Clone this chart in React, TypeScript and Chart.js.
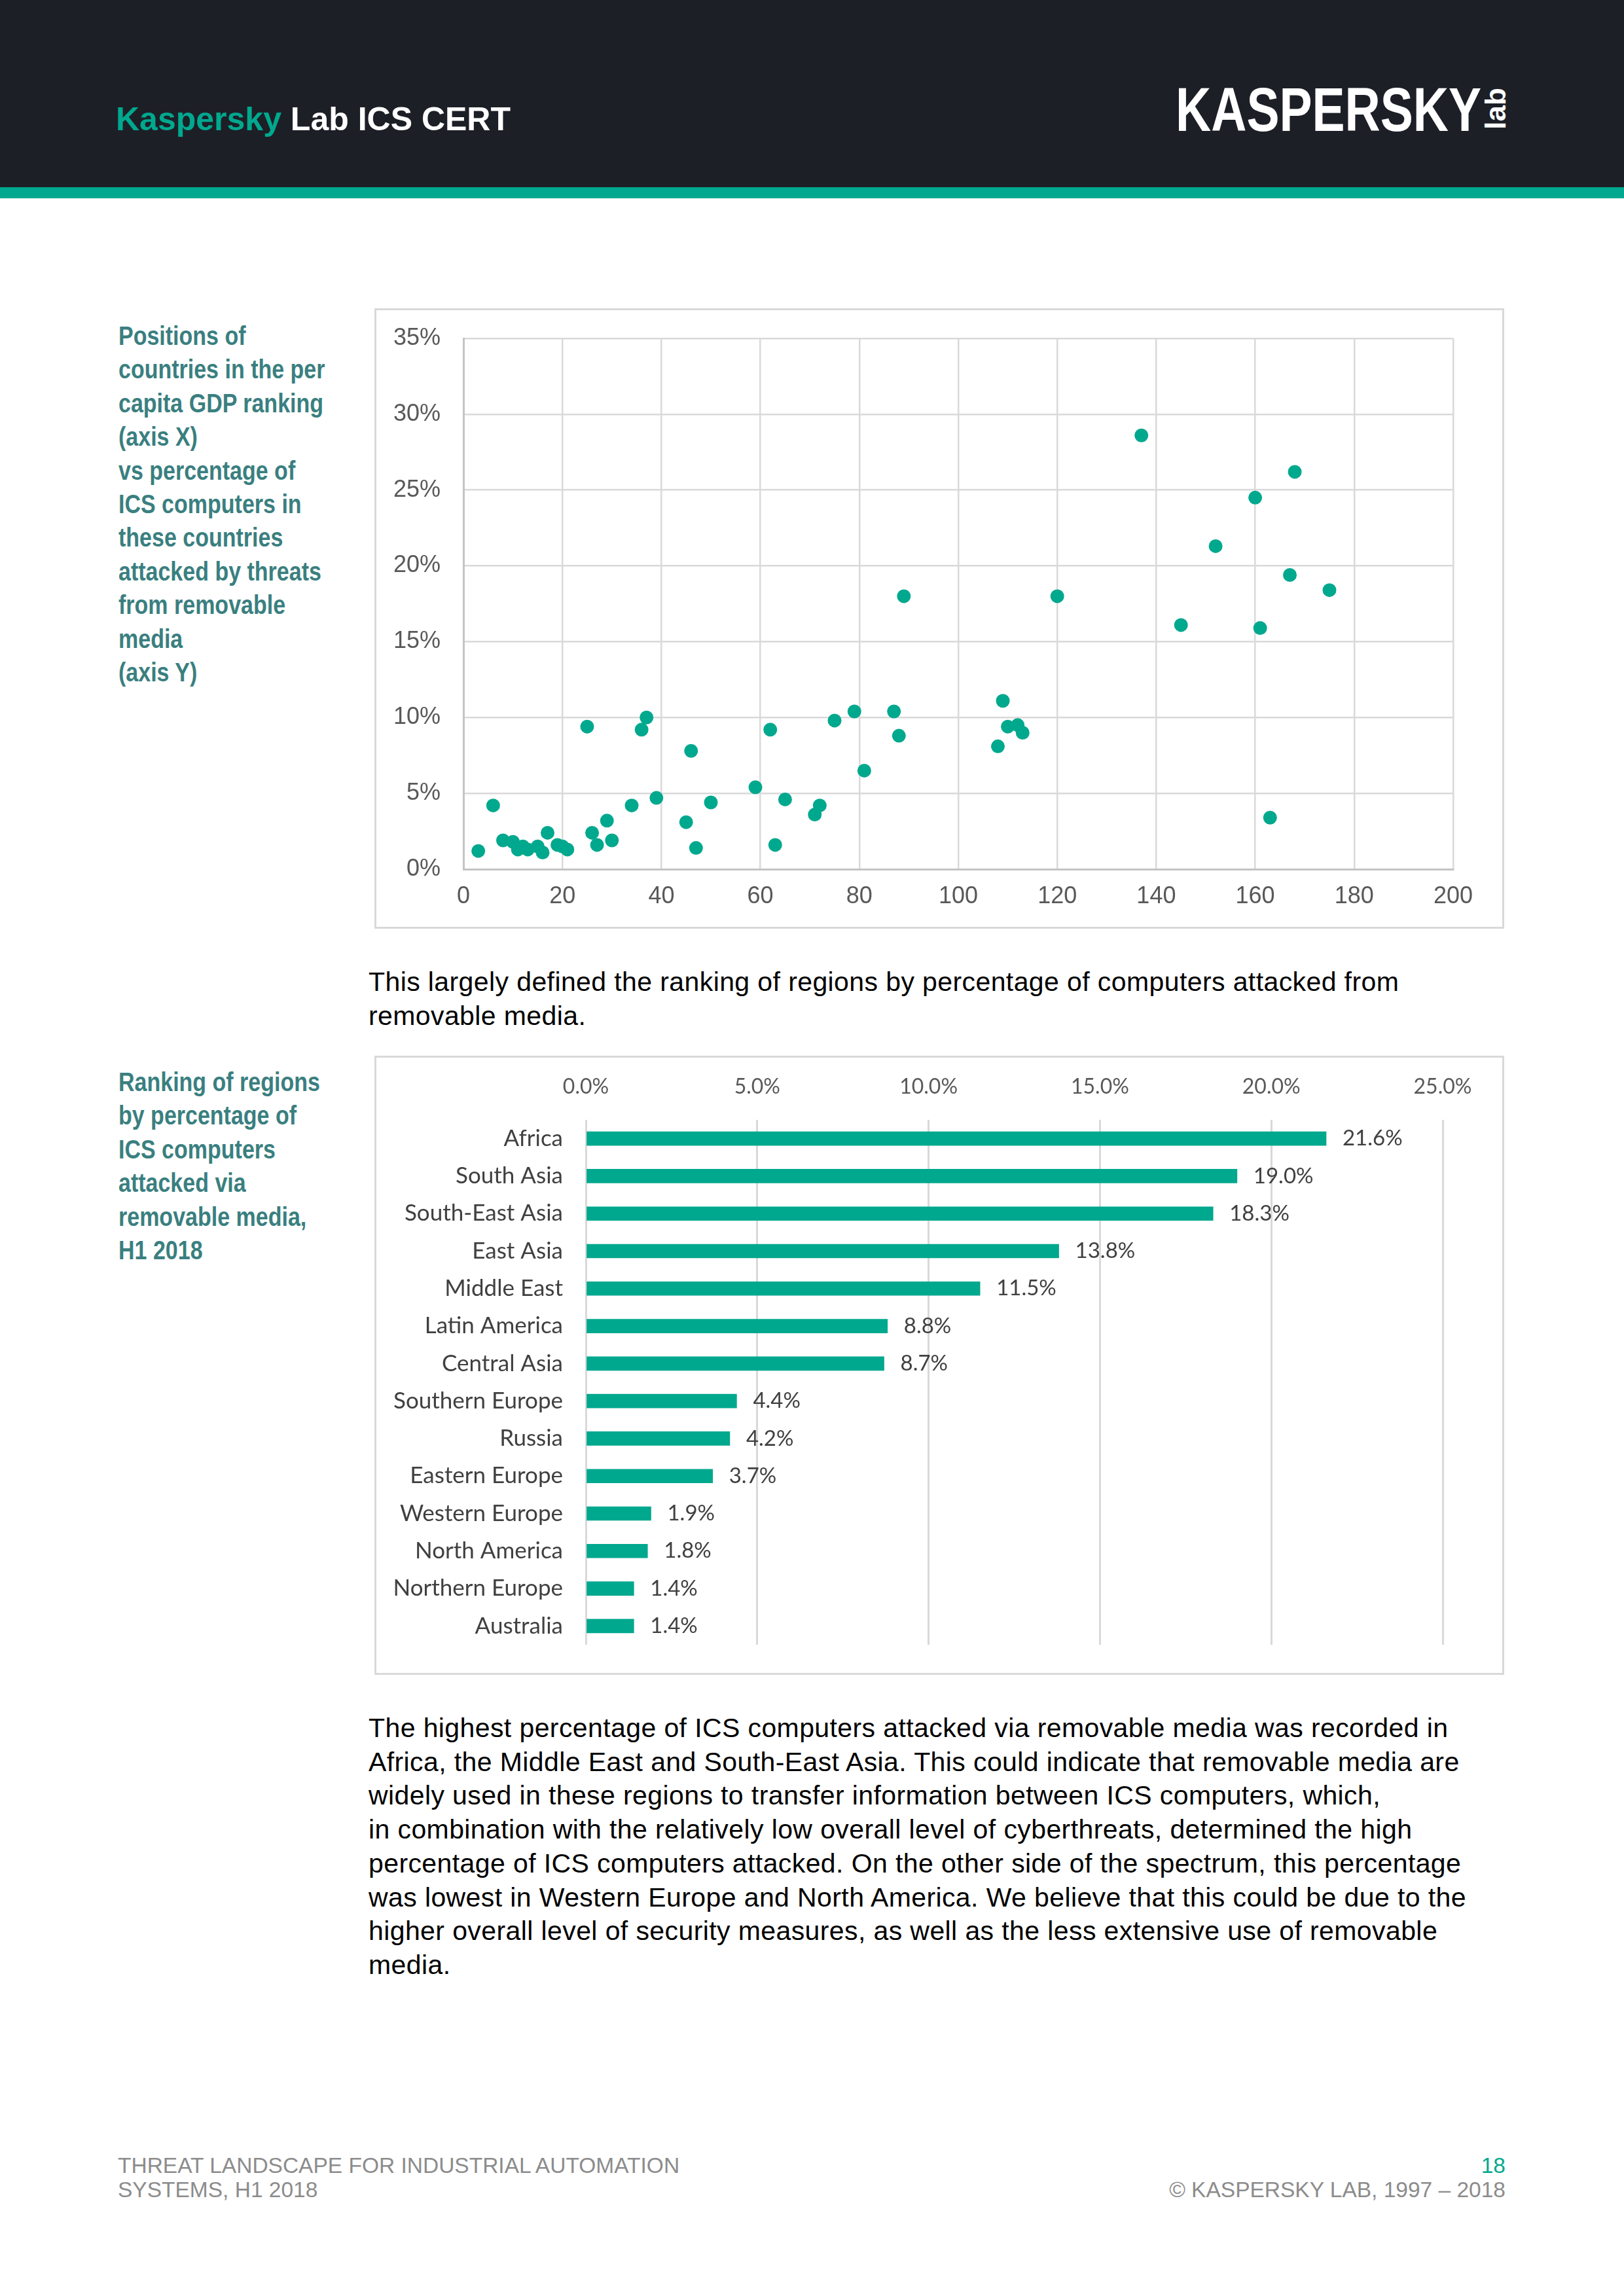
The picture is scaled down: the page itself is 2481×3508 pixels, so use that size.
import React, { useEffect, useRef } from "react";
import { Chart, registerables } from "chart.js";

Chart.register(...registerables);

// ---- Scatter data: per capita GDP rank (x) vs % ICS computers attacked via removable media (y)
const gdpRank = [
  3, 6, 8, 10, 11, 12, 13, 15, 16, 17, 19, 20, 21, 25, 26, 27, 29, 30, 34, 36, 37, 39,
  45, 46, 47, 50, 59, 62, 63, 65, 71, 72, 75, 79, 81, 87, 88, 89,
  137, 168, 160, 152, 167, 175, 120, 145, 161, 109, 110, 112, 113, 108, 163,
];
const removablePct = [
  1.2, 4.2, 1.9, 1.8, 1.3, 1.5, 1.3, 1.5, 1.1, 2.4, 1.6, 1.5, 1.3, 9.4, 2.4, 1.6, 3.2, 1.9, 4.2, 9.2, 10.0, 4.7,
  3.1, 7.8, 1.4, 4.4, 5.4, 9.2, 1.6, 4.6, 3.6, 4.2, 9.8, 10.4, 6.5, 10.4, 8.8, 18.0,
  28.6, 26.2, 24.5, 21.3, 19.4, 18.4, 18.0, 16.1, 15.9, 11.1, 9.4, 9.5, 9.0, 8.1, 3.4,
];
const scatterXTicks = [0, 20, 40, 60, 80, 100, 120, 140, 160, 180, 200];
const scatterYTicks = [0, 5, 10, 15, 20, 25, 30, 35];

// ---- Bar data: ranking of regions
const regions = [
  "Africa",
  "South Asia",
  "South-East Asia",
  "East Asia",
  "Middle East",
  "Latin America",
  "Central Asia",
  "Southern Europe",
  "Russia",
  "Eastern Europe",
  "Western Europe",
  "North America",
  "Northern Europe",
  "Australia",
];
const regionPct = [21.6, 19.0, 18.3, 13.8, 11.5, 8.8, 8.7, 4.4, 4.2, 3.7, 1.9, 1.8, 1.4, 1.4];
const barTicks = [0, 5, 10, 15, 20, 25];

const TEAL = "#00A88E";
const CAPTION = "#3A7F80";
const GRID = "#D9D9D9";

function ScatterChart() {
  const ref = useRef<HTMLCanvasElement>(null);
  useEffect(() => {
    const font = { family: "'Liberation Sans', Arial, sans-serif", size: 36 };
    const chart = new Chart(ref.current as HTMLCanvasElement, {
      type: "scatter",
      data: {
        datasets: [
          {
            data: gdpRank.map((x, i) => ({ x, y: removablePct[i] })),
            backgroundColor: TEAL,
            borderWidth: 0,
            pointRadius: 10.5,
            pointHoverRadius: 10.5,
          },
        ],
      },
      options: {
        responsive: false,
        animation: false,
        devicePixelRatio: 1,
        layout: { padding: { top: 43, right: 75, left: 0, bottom: 0 } },
        plugins: { legend: { display: false }, tooltip: { enabled: false } },
        scales: {
          x: {
            type: "linear",
            min: scatterXTicks[0],
            max: scatterXTicks[scatterXTicks.length - 1],
            afterBuildTicks: (s: any) => {
              s.ticks = scatterXTicks.map((v) => ({ value: v }));
            },
            ticks: { padding: 20, color: "#595959", font },
            grid: { color: GRID, lineWidth: 2.5, drawTicks: false },
            border: { color: "#C4C4C4", width: 3 },
            afterFit: (s: any) => {
              s.height = 88;
              s.paddingLeft = 0;
              s.paddingRight = 0;
            },
          },
          y: {
            type: "linear",
            min: scatterYTicks[0],
            max: scatterYTicks[scatterYTicks.length - 1],
            afterBuildTicks: (s: any) => {
              s.ticks = scatterYTicks.map((v) => ({ value: v }));
            },
            ticks: { padding: 35, color: "#595959", font, callback: (v: any) => v + "%" },
            grid: { color: GRID, lineWidth: 2.5, drawTicks: false },
            border: { color: "#C4C4C4", width: 3 },
            afterFit: (s: any) => {
              s.width = 133;
              s.paddingTop = 0;
              s.paddingBottom = 0;
            },
          },
        },
      },
    } as any);
    return () => chart.destroy();
  }, []);
  return <canvas ref={ref} width={1720} height={942} style={{ display: "block", width: 1720, height: 942 }} />;
}

const barLabelPlugin = {
  id: "barLabels",
  afterDatasetsDraw(chart: any) {
    const ctx = chart.ctx;
    const meta = chart.getDatasetMeta(0);
    ctx.save();
    ctx.font = "33px Lato, 'Open Sans', sans-serif";
    ctx.fillStyle = "#404040";
    ctx.textBaseline = "middle";
    ctx.textAlign = "left";
    meta.data.forEach((el: any, i: number) => {
      ctx.fillText(regionPct[i].toFixed(1) + "%", el.x + 25, el.y);
    });
    ctx.restore();
  },
};

function BarChart() {
  const ref = useRef<HTMLCanvasElement>(null);
  useEffect(() => {
    const chart = new Chart(ref.current as HTMLCanvasElement, {
      type: "bar",
      data: {
        labels: regions,
        datasets: [
          {
            data: regionPct,
            backgroundColor: TEAL,
            borderWidth: 0,
            barThickness: 21,
          },
        ],
      },
      plugins: [barLabelPlugin],
      options: {
        indexAxis: "y",
        responsive: false,
        animation: false,
        devicePixelRatio: 1,
        layout: { padding: { top: 0, right: 91, left: 0, bottom: 43 } },
        plugins: { legend: { display: false }, tooltip: { enabled: false } },
        scales: {
          x: {
            type: "linear",
            position: "top",
            min: barTicks[0],
            max: barTicks[barTicks.length - 1],
            afterBuildTicks: (s: any) => {
              s.ticks = barTicks.map((v) => ({ value: v }));
            },
            ticks: {
              padding: 31,
              color: "#595959",
              font: { family: "Lato, 'Open Sans', sans-serif", size: 32 },
              callback: (v: any) => Number(v).toFixed(1) + "%",
            },
            grid: { color: GRID, lineWidth: 3, drawTicks: false },
            border: { display: false },
            afterFit: (s: any) => {
              s.height = 95;
              s.paddingLeft = 0;
              s.paddingRight = 0;
            },
          },
          y: {
            type: "category",
            ticks: {
              padding: 35,
              color: "#404040",
              font: { family: "Lato, 'Open Sans', sans-serif", size: 35 },
            },
            grid: { display: false, drawTicks: false },
            border: { display: false },
            afterFit: (s: any) => {
              s.width = 320;
              s.paddingTop = 0;
              s.paddingBottom = 0;
            },
          },
        },
      },
    } as any);
    return () => chart.destroy();
  }, []);
  return <canvas ref={ref} width={1720} height={940} style={{ display: "block", width: 1720, height: 940 }} />;
}

const sans = "'Liberation Sans', Arial, Helvetica, sans-serif";

const captionStyle: React.CSSProperties = {
  position: "absolute",
  left: 181,
  fontFamily: sans,
  fontWeight: 700,
  fontSize: 40,
  lineHeight: "51.4px",
  color: CAPTION,
  whiteSpace: "nowrap",
  transform: "scaleX(0.85)",
  transformOrigin: "left top",
};

const bodyStyle: React.CSSProperties = {
  position: "absolute",
  left: 563,
  fontFamily: sans,
  fontSize: 41,
  letterSpacing: "0.4px",
  lineHeight: "51.7px",
  color: "#000",
  whiteSpace: "nowrap",
};

const footStyle: React.CSSProperties = {
  position: "absolute",
  fontFamily: sans,
  fontSize: 33.5,
  lineHeight: "37px",
  color: "#8C8C8C",
  whiteSpace: "nowrap",
};

const caption1 = [
  "Positions of",
  "countries in the per",
  "capita GDP ranking",
  "(axis X)",
  "vs percentage of",
  "ICS computers in",
  "these countries",
  "attacked by threats",
  "from removable",
  "media",
  "(axis Y)",
];
const caption2 = [
  "Ranking of regions",
  "by percentage of",
  "ICS computers",
  "attacked via",
  "removable media,",
  "H1 2018",
];
const para1 = [
  "This largely defined the ranking of regions by percentage of computers attacked from",
  "removable media.",
];
const para2 = [
  "The highest percentage of ICS computers attacked via removable media was recorded in",
  "Africa, the Middle East and South-East Asia. This could indicate that removable media are",
  "widely used in these regions to transfer information between ICS computers, which,",
  "in combination with the relatively low overall level of cyberthreats, determined the high",
  "percentage of ICS computers attacked. On the other side of the spectrum, this percentage",
  "was lowest in Western Europe and North America. We believe that this could be due to the",
  "higher overall level of security measures, as well as the less extensive use of removable",
  "media.",
];

function Lines({ lines }: { lines: string[] }) {
  return (
    <>
      {lines.map((l, i) => (
        <div key={i}>{l}</div>
      ))}
    </>
  );
}

export default function App() {
  return (
    <div
      style={{
        position: "absolute",
        left: 0,
        top: 0,
        width: 2481,
        height: 3508,
        background: "#fff",
        overflow: "hidden",
      }}
    >
      {/* Header */}
      <div style={{ position: "absolute", left: 0, top: 0, width: 2481, height: 286, background: "#1D1F27" }} />
      <div style={{ position: "absolute", left: 0, top: 286, width: 2481, height: 17, background: "#00A88F" }} />
      <div
        style={{
          position: "absolute",
          left: 177,
          top: 152,
          fontFamily: sans,
          fontWeight: 700,
          fontSize: 50,
          lineHeight: "60px",
          whiteSpace: "nowrap",
        }}
      >
        <span style={{ color: TEAL }}>Kaspersky</span>
        <span style={{ color: "#fff" }}> Lab ICS CERT</span>
      </div>
      <div
        style={{
          position: "absolute",
          left: 1796,
          top: 117,
          fontFamily: sans,
          fontWeight: 700,
          fontSize: 95,
          lineHeight: "100px",
          color: "#fff",
          whiteSpace: "nowrap",
          transform: "scaleX(0.79)",
          transformOrigin: "left top",
        }}
      >
        KASPERSKY
      </div>
      <div
        style={{
          position: "absolute",
          left: 2251,
          top: 148,
          width: 68,
          height: 36,
          lineHeight: "36px",
          textAlign: "center",
          fontFamily: sans,
          fontWeight: 700,
          fontSize: 44,
          color: "#fff",
          transform: "rotate(-90deg)",
        }}
      >
        lab
      </div>

      {/* Caption 1 */}
      <div style={{ ...captionStyle, top: 488 }}>
        <Lines lines={caption1} />
      </div>

      {/* Scatter chart */}
      <div
        style={{
          position: "absolute",
          left: 572,
          top: 471,
          width: 1726,
          height: 948,
          border: "3px solid #D9D9D9",
          boxSizing: "border-box",
          background: "#fff",
        }}
      >
        <ScatterChart />
      </div>

      {/* Paragraph 1 */}
      <div style={{ ...bodyStyle, top: 1475 }}>
        <Lines lines={para1} />
      </div>

      {/* Caption 2 */}
      <div style={{ ...captionStyle, top: 1628 }}>
        <Lines lines={caption2} />
      </div>

      {/* Bar chart */}
      <div
        style={{
          position: "absolute",
          left: 572,
          top: 1613,
          width: 1726,
          height: 946,
          border: "3px solid #D9D9D9",
          boxSizing: "border-box",
          background: "#fff",
        }}
      >
        <BarChart />
      </div>

      {/* Paragraph 2 */}
      <div style={{ ...bodyStyle, top: 2615 }}>
        <Lines lines={para2} />
      </div>

      {/* Footer */}
      <div style={{ ...footStyle, left: 180, top: 3290 }}>
        <div>THREAT LANDSCAPE FOR INDUSTRIAL AUTOMATION</div>
        <div>SYSTEMS, H1 2018</div>
      </div>
      <div style={{ ...footStyle, right: 181, top: 3290, textAlign: "right" }}>
        <div style={{ color: TEAL }}>18</div>
        <div>© KASPERSKY LAB, 1997 – 2018</div>
      </div>
    </div>
  );
}
